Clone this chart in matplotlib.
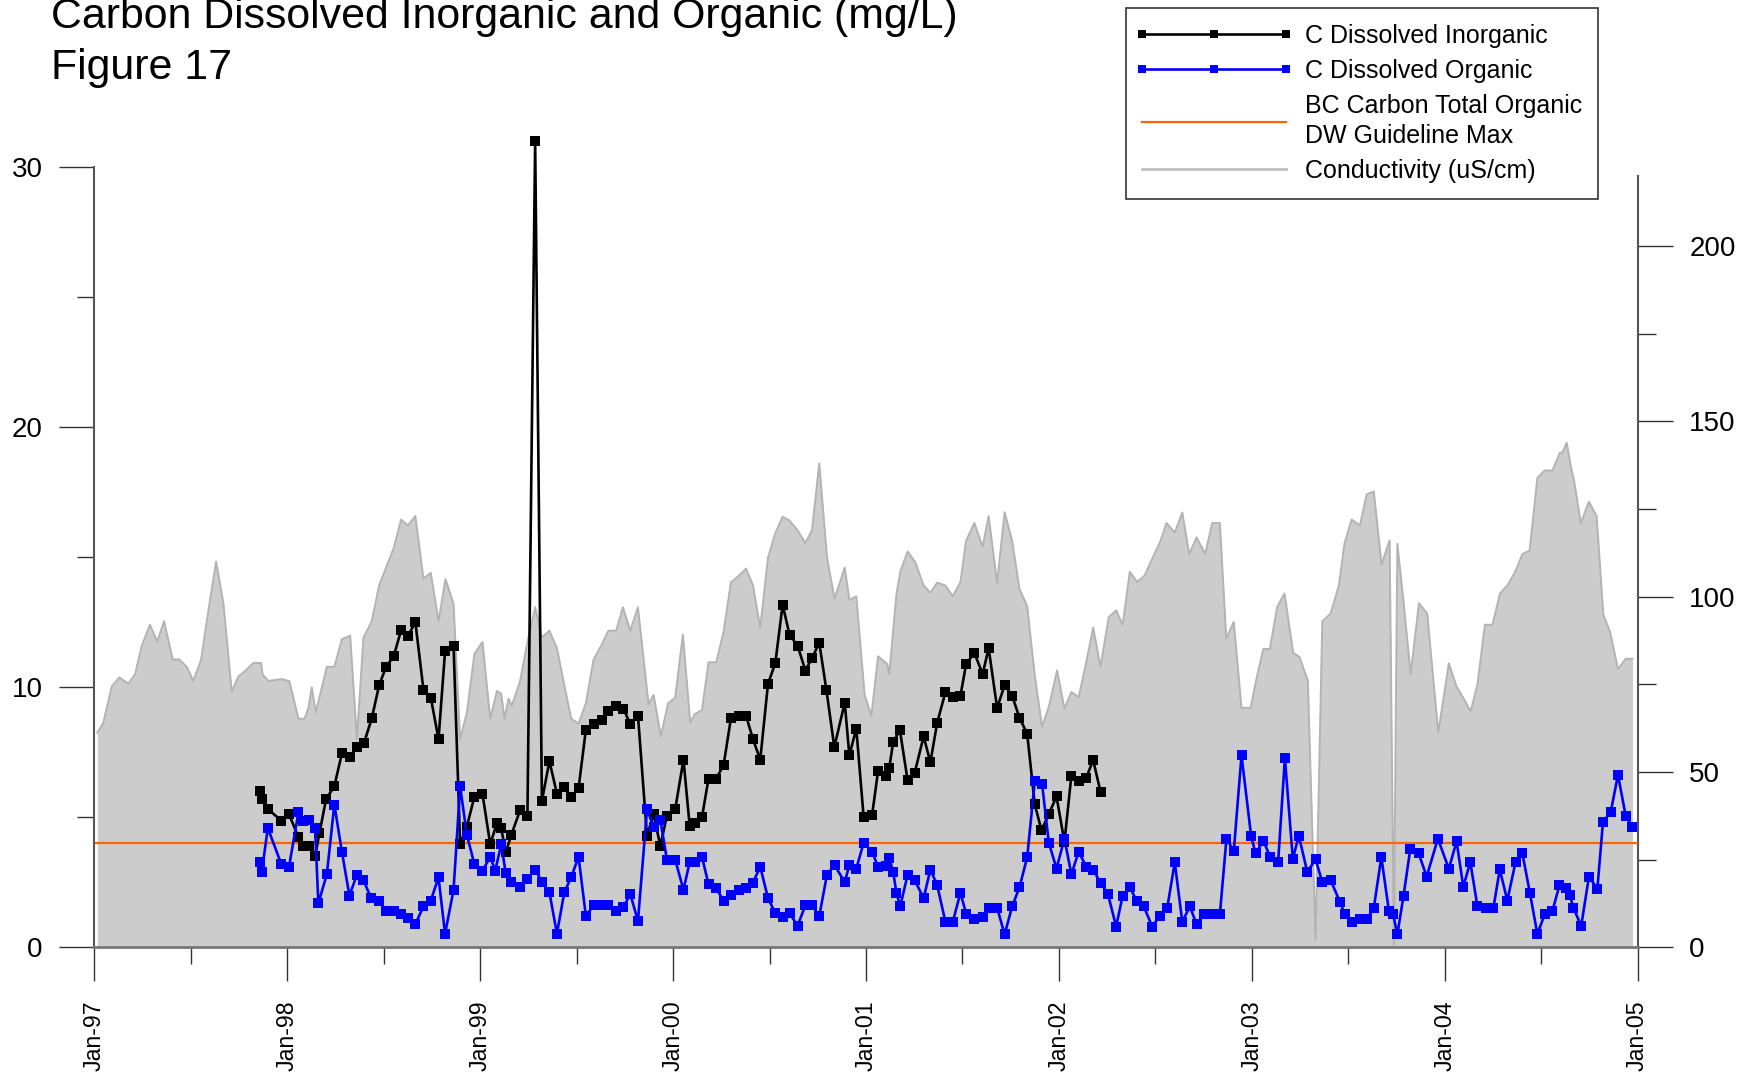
import matplotlib
matplotlib.use('Agg')
import matplotlib.pyplot as plt
from matplotlib.lines import Line2D
from matplotlib.legend_handler import HandlerLine2D
from matplotlib.ticker import FixedLocator

# ---------------- data (decimal years) ----------------
inorg_t = [1997.860, 1997.868, 1997.899, 1997.969, 1998.009, 1998.058, 1998.084, 1998.115, 1998.144, 1998.167,
           1998.201, 1998.244, 1998.284, 1998.324, 1998.361, 1998.398, 1998.438, 1998.476, 1998.512, 1998.552,
           1998.590, 1998.625, 1998.664, 1998.706, 1998.744, 1998.784, 1998.818, 1998.862, 1998.896, 1998.931,
           1998.970, 1999.012, 1999.052, 1999.087, 1999.109, 1999.133, 1999.161, 1999.207, 1999.245, 1999.285,
           1999.320, 1999.359, 1999.398, 1999.436, 1999.472, 1999.510, 1999.548, 1999.588, 1999.631, 1999.665,
           1999.705, 1999.743, 1999.778, 1999.818, 1999.865, 1999.899, 1999.934, 1999.968, 2000.011, 2000.054,
           2000.086, 2000.112, 2000.150, 2000.184, 2000.224, 2000.262, 2000.300, 2000.340, 2000.378, 2000.414,
           2000.452, 2000.492, 2000.530, 2000.568, 2000.604, 2000.646, 2000.686, 2000.720, 2000.758, 2000.795,
           2000.836, 2000.890, 2000.914, 2000.950, 2000.988, 2001.032, 2001.063, 2001.106, 2001.121, 2001.141,
           2001.176, 2001.216, 2001.253, 2001.299, 2001.334, 2001.369, 2001.412, 2001.450, 2001.490, 2001.519,
           2001.562, 2001.605, 2001.636, 2001.680, 2001.719, 2001.758, 2001.796, 2001.836, 2001.875, 2001.910,
           2001.948, 2001.988, 2002.029, 2002.065, 2002.103, 2002.142, 2002.178, 2002.216]
inorg_v = [6.01, 5.69, 5.32, 4.87, 5.12, 4.23, 3.88, 3.88, 3.50, 4.40,
           5.69, 6.20, 7.48, 7.31, 7.70, 7.86, 8.80, 10.07, 10.78, 11.19,
           12.19, 11.96, 12.50, 9.90, 9.60, 8.00, 11.38, 11.59, 3.97, 4.64,
           5.79, 5.90, 3.96, 4.78, 4.57, 3.65, 4.32, 5.27, 5.06, 30.98,
           5.63, 7.16, 5.90, 6.17, 5.79, 6.11, 8.37, 8.58, 8.74, 9.10,
           9.27, 9.17, 8.58, 8.91, 4.28, 5.12, 3.90, 5.06, 5.31, 7.21,
           4.68, 4.78, 5.01, 6.49, 6.49, 7.00, 8.81, 8.91, 8.91, 8.01,
           7.21, 10.12, 10.92, 13.17, 12.01, 11.59, 10.64, 11.11, 11.70, 9.89,
           7.70, 9.40, 7.38, 8.41, 5.01, 5.09, 6.79, 6.60, 6.90, 7.89,
           8.35, 6.42, 6.72, 8.11, 7.11, 8.62, 9.81, 9.62, 9.67, 10.88,
           11.32, 10.50, 11.50, 9.20, 10.08, 9.67, 8.82, 8.21, 5.50, 4.50,
           5.12, 5.80, 4.05, 6.60, 6.39, 6.52, 7.20, 5.98]

org_t = [1997.860, 1997.868, 1997.899, 1997.969, 1998.009, 1998.058, 1998.084, 1998.115, 1998.144, 1998.161,
         1998.205, 1998.244, 1998.283, 1998.322, 1998.361, 1998.395, 1998.435, 1998.476, 1998.512, 1998.552,
         1998.590, 1998.625, 1998.664, 1998.706, 1998.744, 1998.784, 1998.818, 1998.862, 1998.896, 1998.931,
         1998.970, 1999.012, 1999.052, 1999.078, 1999.109, 1999.133, 1999.161, 1999.207, 1999.245, 1999.285,
         1999.320, 1999.359, 1999.398, 1999.436, 1999.472, 1999.510, 1999.548, 1999.588, 1999.631, 1999.665,
         1999.705, 1999.743, 1999.778, 1999.818, 1999.865, 1999.899, 1999.934, 1999.968, 2000.011, 2000.054,
         2000.086, 2000.112, 2000.150, 2000.184, 2000.224, 2000.262, 2000.300, 2000.340, 2000.378, 2000.414,
         2000.452, 2000.492, 2000.530, 2000.568, 2000.604, 2000.646, 2000.686, 2000.720, 2000.758, 2000.798,
         2000.837, 2000.890, 2000.914, 2000.950, 2000.988, 2001.032, 2001.063, 2001.106, 2001.121, 2001.141,
         2001.158, 2001.178, 2001.216, 2001.253, 2001.299, 2001.334, 2001.369, 2001.412, 2001.450, 2001.490,
         2001.519, 2001.562, 2001.605, 2001.636, 2001.680, 2001.719, 2001.758, 2001.796, 2001.836, 2001.875,
         2001.913, 2001.948, 2001.988, 2002.029, 2002.065, 2002.103, 2002.142, 2002.178, 2002.216, 2002.254,
         2002.297, 2002.331, 2002.368, 2002.403, 2002.440, 2002.484, 2002.523, 2002.562, 2002.601, 2002.640,
         2002.679, 2002.714, 2002.755, 2002.795, 2002.835, 2002.869, 2002.907, 2002.947, 2002.997, 2003.020,
         2003.060, 2003.097, 2003.137, 2003.172, 2003.213, 2003.244, 2003.288, 2003.331, 2003.366, 2003.409,
         2003.457, 2003.481, 2003.518, 2003.561, 2003.599, 2003.633, 2003.672, 2003.711, 2003.733, 2003.755,
         2003.787, 2003.822, 2003.865, 2003.907, 2003.965, 2004.022, 2004.062, 2004.097, 2004.133, 2004.170,
         2004.213, 2004.253, 2004.286, 2004.325, 2004.368, 2004.403, 2004.442, 2004.481, 2004.520, 2004.559,
         2004.595, 2004.628, 2004.649, 2004.668, 2004.708, 2004.748, 2004.792, 2004.821, 2004.861, 2004.899,
         2004.939, 2004.974]
org_v = [3.27, 2.90, 4.59, 3.20, 3.10, 5.19, 4.85, 4.90, 4.60, 1.69,
         2.81, 5.49, 3.68, 1.99, 2.79, 2.58, 1.89, 1.80, 1.41, 1.39,
         1.30, 1.14, 0.89, 1.58, 1.80, 2.69, 0.52, 2.21, 6.19, 4.32,
         3.20, 2.95, 3.48, 2.95, 3.96, 2.84, 2.53, 2.32, 2.64, 2.99,
         2.53, 2.11, 0.53, 2.11, 2.70, 3.48, 1.20, 1.62, 1.62, 1.62,
         1.41, 1.54, 2.06, 1.01, 5.31, 4.64, 4.91, 3.37, 3.37, 2.21,
         3.27, 3.27, 3.48, 2.42, 2.27, 1.79, 2.00, 2.21, 2.27, 2.49,
         3.10, 1.90, 1.31, 1.16, 1.31, 0.84, 1.62, 1.62, 1.20, 2.80,
         3.16, 2.51, 3.17, 3.03, 4.02, 3.68, 3.09, 3.13, 3.43, 2.90,
         2.10, 1.58, 2.79, 2.58, 1.89, 2.99, 2.40, 0.98, 0.98, 2.10,
         1.30, 1.11, 1.18, 1.52, 1.52, 0.50, 1.58, 2.31, 3.47, 6.38,
         6.29, 4.02, 3.03, 4.18, 2.81, 3.68, 3.10, 2.99, 2.48, 2.07,
         0.80, 1.99, 2.31, 1.80, 1.58, 0.80, 1.21, 1.52, 3.27, 0.98,
         1.58, 0.89, 1.28, 1.28, 1.28, 4.18, 3.70, 7.38, 4.27, 3.61,
         4.09, 3.47, 3.29, 7.28, 3.40, 4.29, 2.90, 3.38, 2.51, 2.58,
         1.76, 1.30, 0.98, 1.11, 1.11, 1.52, 3.47, 1.41, 1.28, 0.50,
         1.98, 3.78, 3.62, 2.72, 4.18, 3.02, 4.08, 2.32, 3.29, 1.58,
         1.52, 1.52, 3.00, 1.80, 3.29, 3.62, 2.10, 0.51, 1.30, 1.40,
         2.38, 2.28, 2.01, 1.52, 0.82, 2.71, 2.26, 4.82, 5.20, 6.63,
         5.04, 4.63]

cond_t = [1997.015, 1997.046, 1997.090, 1997.129, 1997.176, 1997.211, 1997.245, 1997.288, 1997.326, 1997.361,
          1997.406, 1997.440, 1997.479, 1997.513, 1997.553, 1997.591, 1997.631, 1997.669, 1997.712, 1997.746,
          1997.785, 1997.824, 1997.864, 1997.873, 1997.902, 1997.971, 1998.011, 1998.058, 1998.089, 1998.109,
          1998.127, 1998.148, 1998.205, 1998.244, 1998.283, 1998.326, 1998.361, 1998.395, 1998.438, 1998.476,
          1998.512, 1998.552, 1998.590, 1998.625, 1998.664, 1998.706, 1998.744, 1998.784, 1998.820, 1998.862,
          1998.896, 1998.932, 1998.970, 1999.012, 1999.052, 1999.087, 1999.109, 1999.126, 1999.147, 1999.164,
          1999.207, 1999.245, 1999.285, 1999.320, 1999.359, 1999.398, 1999.436, 1999.472, 1999.510, 1999.548,
          1999.588, 1999.631, 1999.665, 1999.705, 1999.740, 1999.778, 1999.818, 1999.873, 1999.899, 1999.937,
          1999.974, 2000.011, 2000.051, 2000.089, 2000.112, 2000.150, 2000.184, 2000.224, 2000.262, 2000.300,
          2000.340, 2000.378, 2000.414, 2000.452, 2000.492, 2000.530, 2000.568, 2000.604, 2000.646, 2000.686,
          2000.720, 2000.758, 2000.798, 2000.837, 2000.890, 2000.914, 2000.950, 2000.993, 2001.028, 2001.063,
          2001.110, 2001.121, 2001.158, 2001.178, 2001.216, 2001.256, 2001.299, 2001.334, 2001.369, 2001.412,
          2001.450, 2001.490, 2001.519, 2001.562, 2001.605, 2001.636, 2001.680, 2001.719, 2001.758, 2001.796,
          2001.836, 2001.875, 2001.913, 2001.948, 2001.991, 2002.029, 2002.065, 2002.103, 2002.142, 2002.178,
          2002.216, 2002.259, 2002.297, 2002.331, 2002.368, 2002.406, 2002.444, 2002.484, 2002.527, 2002.558,
          2002.601, 2002.640, 2002.676, 2002.714, 2002.759, 2002.795, 2002.835, 2002.868, 2002.907, 2002.947,
          2002.994, 2003.025, 2003.060, 2003.094, 2003.132, 2003.170, 2003.215, 2003.248, 2003.291, 2003.331,
          2003.366, 2003.409, 2003.452, 2003.481, 2003.518, 2003.561, 2003.596, 2003.633, 2003.673, 2003.715,
          2003.737, 2003.755, 2003.786, 2003.824, 2003.867, 2003.910, 2003.967, 2004.022, 2004.061, 2004.097,
          2004.135, 2004.170, 2004.209, 2004.248, 2004.287, 2004.325, 2004.365, 2004.403, 2004.441, 2004.481,
          2004.519, 2004.559, 2004.598, 2004.611, 2004.633, 2004.654, 2004.671, 2004.706, 2004.748, 2004.788,
          2004.823, 2004.857, 2004.899, 2004.939, 2004.974]
cond_v = [61.2, 64.0, 74.4, 77.0, 75.2, 77.9, 85.9, 92.0, 87.2, 93.0,
          82.1, 82.1, 80.0, 76.0, 82.0, 96.1, 110.0, 98.1, 72.9, 77.2,
          79.0, 81.1, 81.1, 77.7, 76.0, 76.5, 75.9, 65.2, 65.2, 68.1,
          74.2, 67.0, 80.0, 80.0, 87.9, 88.9, 59.4, 88.4, 93.0, 103.2,
          108.3, 113.9, 122.0, 120.3, 123.0, 105.2, 106.8, 93.0, 105.0, 98.0,
          59.3, 67.2, 83.7, 87.1, 65.2, 73.1, 72.3, 65.2, 70.9, 68.9,
          75.9, 87.1, 97.0, 88.4, 90.3, 85.3, 74.8, 65.2, 63.8, 69.6,
          82.1, 86.4, 90.3, 90.3, 97.0, 90.3, 97.0, 69.3, 72.0, 60.2,
          69.6, 71.2, 89.2, 64.1, 66.5, 67.7, 81.3, 81.3, 90.0, 104.1,
          105.9, 108.0, 103.3, 91.2, 111.1, 118.1, 122.8, 121.7, 118.9, 115.3,
          118.9, 138.0, 111.3, 99.4, 108.3, 99.1, 100.1, 72.1, 66.0, 83.0,
          80.8, 77.9, 100.7, 107.1, 112.9, 109.8, 103.2, 101.1, 104.0, 103.2,
          100.1, 104.2, 115.9, 121.0, 114.2, 123.0, 104.0, 124.1, 115.9, 102.2,
          97.3, 77.7, 62.9, 68.6, 79.0, 68.1, 72.8, 71.4, 81.3, 91.2,
          80.0, 94.2, 96.1, 92.0, 107.1, 104.2, 106.0, 110.8, 115.9, 121.0,
          118.3, 124.0, 112.2, 116.9, 112.2, 121.0, 121.0, 88.1, 92.8, 68.3,
          68.3, 76.7, 85.1, 85.1, 97.1, 100.9, 84.0, 82.8, 76.0, 2.1,
          93.0, 95.2, 103.2, 115.2, 122.0, 120.3, 129.2, 130.0, 109.1, 116.1,
          0.8, 115.1, 99.1, 77.9, 98.1, 95.2, 61.2, 81.0, 74.5, 71.1,
          67.3, 74.9, 92.0, 92.0, 100.9, 103.2, 107.0, 112.1, 113.2, 133.9,
          136.0, 136.0, 141.1, 141.1, 143.9, 137.3, 133.2, 121.0, 127.1, 123.0,
          94.8, 90.1, 79.4, 82.3, 82.3]

guideline_max = 4.0
year_ticks = list(range(1997, 2006))
year_labels = ['Jan-%02d' % (y % 100) for y in year_ticks]

# ---------------- figure ----------------
plt.rcParams['font.family'] = ['Liberation Sans', 'DejaVu Sans']

W, H = 1741, 1073
fig = plt.figure(figsize=(W / 100, H / 100), dpi=100)
ax = fig.add_axes([94.4 / W, 1 - 947.4 / H, (1637.5 - 94.4) / W, (947.4 - 130) / H])
ax2 = ax.twinx()
ax.set_zorder(ax2.get_zorder() + 1)
ax.patch.set_visible(False)

# conductivity (right axis)
ax2.fill_between(cond_t, cond_v, 0, color='#cccccc', lw=0, zorder=1)
ax2.plot(cond_t, cond_v, color='#b3b3b3', lw=1.4, zorder=2)

# guideline and carbon series (left axis)
ax.axhline(guideline_max, color='#ff6600', lw=1.6, zorder=2)
ax.plot(inorg_t, inorg_v, color='black', lw=1.9, marker='s', ms=7, mew=0, zorder=3)
ax.plot(org_t, org_v, color='#0000ff', lw=1.9, marker='s', ms=7, mew=0, zorder=4)

ax.set_xlim(1997, 2005)
ax.set_ylim(0, 817.4 / 26.023)
ax2.set_ylim(0, 817.4 / 3.507)

ax.xaxis.set_major_locator(FixedLocator(year_ticks))
ax.set_xticklabels(year_labels)
ax.xaxis.set_minor_locator(FixedLocator([y + 0.5 for y in year_ticks[:-1]]))
ax.yaxis.set_major_locator(FixedLocator([0, 10, 20, 30]))
ax.yaxis.set_minor_locator(FixedLocator([5, 15, 25]))
ax2.yaxis.set_major_locator(FixedLocator([0, 50, 100, 150, 200]))
ax2.yaxis.set_minor_locator(FixedLocator([25, 75, 125, 175]))

tc = '#333333'
ax.tick_params(axis='y', which='major', direction='out', length=25.2, width=1, color=tc, labelsize=20, pad=12)
ax.tick_params(axis='y', which='minor', direction='out', length=12.6, width=1, color=tc)
ax.tick_params(axis='x', which='major', direction='out', length=24.8, width=1, color=tc, labelsize=16.7,
               pad=13.5, labelrotation=90)
ax.tick_params(axis='x', which='minor', direction='out', length=12.3, width=1, color=tc)
ax2.tick_params(axis='y', which='major', direction='out', length=25.2, width=1, color=tc, labelsize=20, pad=12)
ax2.tick_params(axis='y', which='minor', direction='out', length=12.6, width=1, color=tc)
ax2.tick_params(axis='x', which='both', bottom=False, labelbottom=False)

for s in ['top', 'right']:
    ax.spines[s].set_visible(False)
for s in ['top', 'left', 'bottom']:
    ax2.spines[s].set_visible(False)
ax.spines['left'].set_bounds(0, 30)
ax.spines['left'].set_color('#555555')
ax.spines['left'].set_linewidth(1.5)
ax.spines['bottom'].set_color('#777777')
ax.spines['bottom'].set_linewidth(2.0)
ax2.spines['right'].set_bounds(0, 220)
ax2.spines['right'].set_color('#555555')
ax2.spines['right'].set_linewidth(1.5)

# title
fig.text(51 / W, 1 - 28 / H, 'Carbon Dissolved Inorganic and Organic (mg/L)', fontsize=30.9,
         ha='left', va='baseline')
fig.text(51 / W, 1 - 79 / H, 'Figure 17', fontsize=30.9, ha='left', va='baseline')

# legend
handles = [
    Line2D([], [], color='black', lw=1.9, marker='s', ms=6, mew=0),
    Line2D([], [], color='#0000ff', lw=1.9, marker='s', ms=6, mew=0),
    Line2D([], [], color='#ff6600', lw=1.6),
    Line2D([], [], color='#c0c0c0', lw=2.0),
]
labels = ['C Dissolved Inorganic', 'C Dissolved Organic',
          'BC Carbon Total Organic\nDW Guideline Max', 'Conductivity (uS/cm)']
leg = fig.legend(handles, labels, loc='upper left', bbox_to_anchor=(1126 / W, 1 - 8.3 / H),
                 bbox_transform=fig.transFigure, frameon=True, fancybox=False, edgecolor='#333333',
                 framealpha=1, fontsize=18, handlelength=5.78, handletextpad=0.77, borderpad=0.62,
                 labelspacing=0.44, numpoints=3, borderaxespad=0,
                 handler_map={Line2D: HandlerLine2D(marker_pad=0)})
leg.get_frame().set_linewidth(1.2)
for t in leg.get_texts():
    t.set_linespacing(1.33)

fig.savefig('out.png', dpi=100)
